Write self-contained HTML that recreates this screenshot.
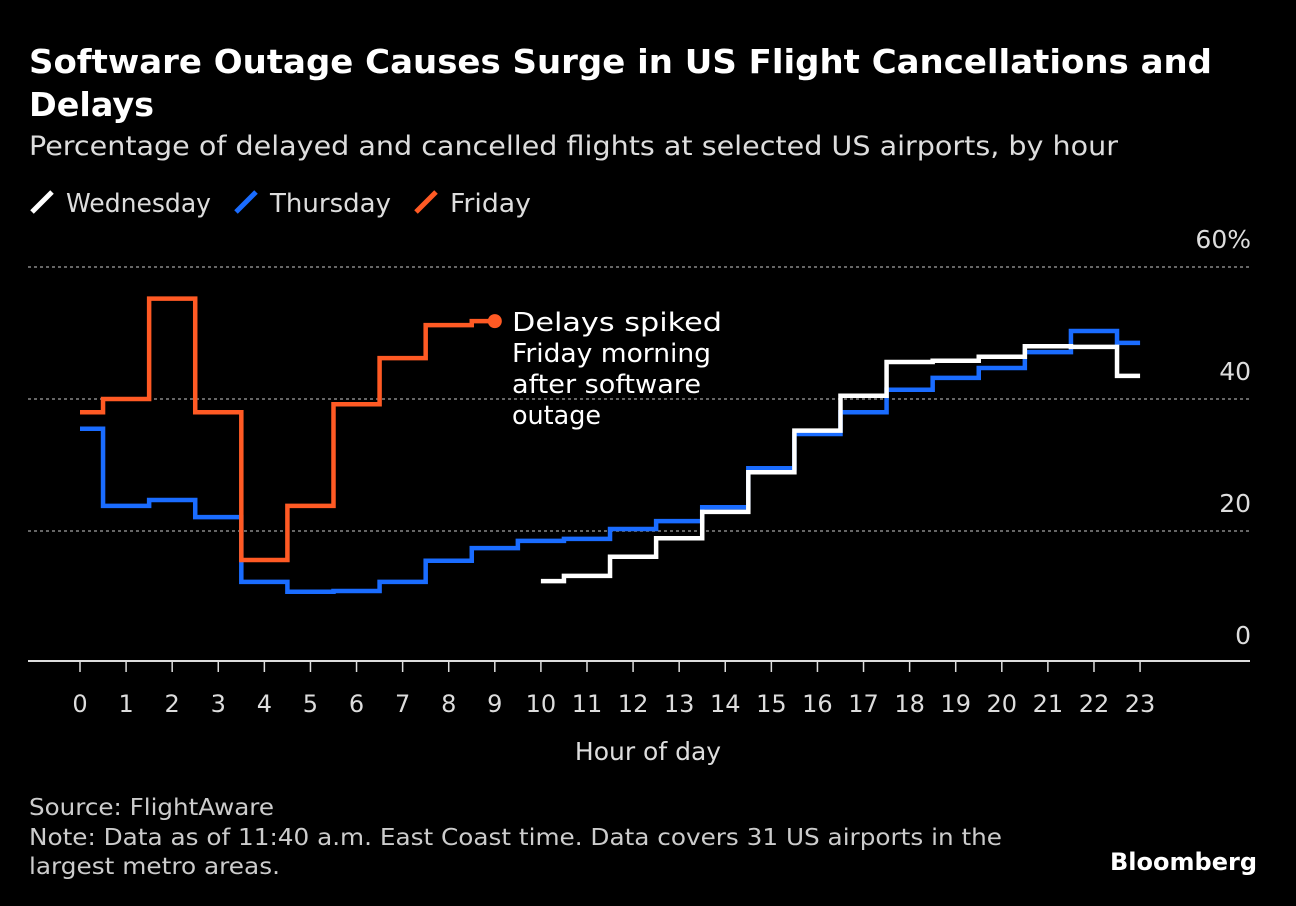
<!DOCTYPE html>
<html><head><meta charset="utf-8"><style>
body{margin:0;background:#000;width:1296px;height:906px;overflow:hidden;font-family:"DejaVu Sans","Liberation Sans",sans-serif;}
svg{position:absolute;left:0;top:0}
</style></head><body>
<svg id="c" width="1296" height="906">
<text x="29" y="73" fill="#fff" font-size="33" font-weight="bold" textLength="1183" lengthAdjust="spacingAndGlyphs">Software Outage Causes Surge in US Flight Cancellations and</text>
<text x="29" y="116" fill="#fff" font-size="33" font-weight="bold" textLength="125" lengthAdjust="spacingAndGlyphs">Delays</text>
<text x="29" y="155" fill="#ddd" font-size="27" textLength="1089" lengthAdjust="spacingAndGlyphs">Percentage of delayed and cancelled flights at selected US airports, by hour</text>
<g>
<line x1="32" y1="212" x2="52" y2="192" stroke="#fff" stroke-width="5"/>
<text x="66" y="212" fill="#ddd" font-size="26" textLength="145" lengthAdjust="spacingAndGlyphs">Wednesday</text>
<line x1="236" y1="212" x2="256" y2="192" stroke="#1a6cff" stroke-width="5"/>
<text x="270" y="212" fill="#ddd" font-size="26" textLength="121" lengthAdjust="spacingAndGlyphs">Thursday</text>
<line x1="416" y1="212" x2="436" y2="192" stroke="#ff5a24" stroke-width="5"/>
<text x="450" y="212" fill="#ddd" font-size="26" textLength="81" lengthAdjust="spacingAndGlyphs">Friday</text>
</g>
<g id="grid"></g><g id="xt"></g><g id="series"></g>
<g>
<text x="512" y="331" fill="#fff" font-size="26" textLength="210" lengthAdjust="spacingAndGlyphs">Delays spiked</text>
<text x="512" y="362" fill="#fff" font-size="26" textLength="199" lengthAdjust="spacingAndGlyphs">Friday morning</text>
<text x="512" y="393" fill="#fff" font-size="26" textLength="189" lengthAdjust="spacingAndGlyphs">after software</text>
<text x="512" y="424" fill="#fff" font-size="26" textLength="89" lengthAdjust="spacingAndGlyphs">outage</text>
</g>
<text x="648" y="760" fill="#ddd" font-size="25" text-anchor="middle">Hour of day</text>
<text x="29" y="815" fill="#ccc" font-size="23" textLength="245" lengthAdjust="spacingAndGlyphs">Source: FlightAware</text>
<text x="29" y="845" fill="#ccc" font-size="23" textLength="973" lengthAdjust="spacingAndGlyphs">Note: Data as of 11:40 a.m. East Coast time. Data covers 31 US airports in the</text>
<text x="29" y="874" fill="#ccc" font-size="23" textLength="251" lengthAdjust="spacingAndGlyphs">largest metro areas.</text>
<text x="1257" y="870" fill="#fff" font-size="24" font-weight="bold" text-anchor="end">Bloomberg</text>
</svg>
<script>
const hours=[0,1,2,3,4,5,6,7,8,9,10,11,12,13,14,15,16,17,18,19,20,21,22,23];
const yTicks=[0,20,40,60];
const yTickLabels=["0","20","40","60%"];
const wednesday=[null,null,null,null,null,null,null,null,null,null,12.4,13.2,16.1,18.9,22.9,28.9,35.2,40.5,45.6,45.8,46.4,48,47.9,43.5];
const thursday=[35.5,23.8,24.7,22.1,12.3,10.8,10.9,12.3,15.5,17.4,18.5,18.8,20.3,21.5,23.6,29.5,34.7,38,41.4,43.2,44.7,47.1,50.3,48.5];
const friday=[38,40,55.2,38,15.6,23.8,39.2,46.2,51.2,51.8];
const ns="http://www.w3.org/2000/svg";
const x=h=>80+h*46.09;
const y=v=>663-v*6.6;
function mk(t,a,p){const e=document.createElementNS(ns,t);for(const k in a)e.setAttribute(k,a[k]);p.appendChild(e);return e;}
const g=document.getElementById('grid');
yTicks.forEach((v,i)=>{
 if(v>0){const l=mk('line',{x1:28,x2:1250,y1:y(v),y2:y(v),stroke:'#888','stroke-width':1.5,'stroke-dasharray':'3,3'},g);
 
 }
 const t=mk('text',{x:1251,y:y(v)-19,fill:'#ddd','font-size':25,'text-anchor':'end'},g);t.textContent=yTickLabels[i];
 
 
});
const base=mk('line',{x1:28,x2:1250,y1:661,y2:661,stroke:'#ddd','stroke-width':2},g);


const xt=document.getElementById('xt');
hours.forEach(h=>{
 const tk=mk('line',{x1:x(h),x2:x(h),y1:661,y2:672,stroke:'#ddd','stroke-width':1.5},xt);
 
 
 const t=mk('text',{x:x(h),y:712,fill:'#ddd','font-size':24,'text-anchor':'middle'},xt);t.textContent=h;
 
 
});
function step(vals,color,name){
 let d='',prev=null,last=null;
 vals.forEach((v,h)=>{if(v==null)return;
  if(prev==null){d+='M'+x(h)+','+y(v);}
  else{d+=' H'+x(h-0.5)+' V'+y(v);}
  prev=v;last=h;});
 d+=' H'+x(last);
 const p=mk('path',{d:d,fill:'none',stroke:color,'stroke-width':4.5},document.getElementById('series'));
 
 
 return last;
}
step(thursday,'#1a6cff','thursday-line');
step(wednesday,'#ffffff','wednesday-line');
const lf=step(friday,'#ff5a24','friday-line');
const dot=mk('circle',{cx:x(lf),cy:y(friday[lf]),r:7,fill:'#ff5a24'},document.getElementById('series'));


</script>
</body></html>
